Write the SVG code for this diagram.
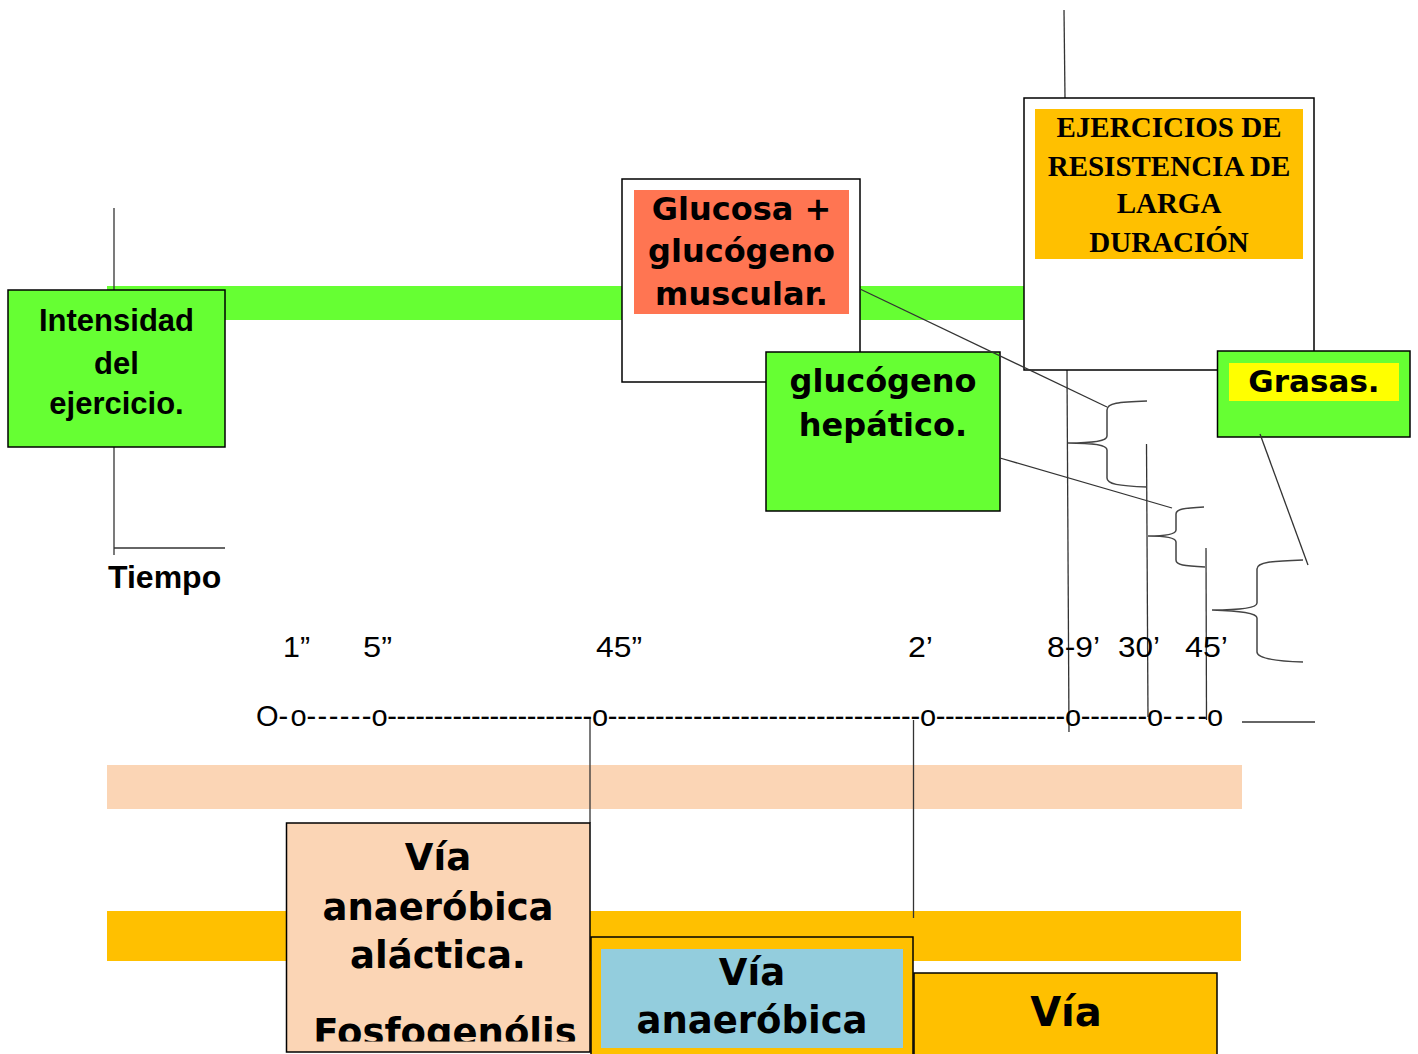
<svg xmlns="http://www.w3.org/2000/svg" width="1418" height="1054" viewBox="0 0 1418 1054">
<style>
.box{stroke:#000;stroke-width:1.5}
.ln{stroke:#333;stroke-width:1.3;fill:none}
.br{stroke:#444;stroke-width:1.5;fill:none}
.sans{font-family:"Liberation Sans",Arial,sans-serif}
.dj{font-family:"DejaVu Sans","Liberation Sans",sans-serif;font-weight:bold;text-anchor:middle}
.serif{font-family:"Liberation Serif","Times New Roman",serif;font-weight:bold;font-size:29px;text-anchor:middle}
.tl{font-family:"Liberation Sans",Arial,sans-serif;font-size:29px}
</style>
<defs>
<clipPath id="clipFos"><rect x="286" y="823" width="304" height="218.5"/></clipPath>
</defs>
<rect width="1418" height="1054" fill="#fff"/>
<g id="bands">
<rect x="107" y="286" width="923" height="34" fill="#66ff33"/>
<rect x="107" y="765" width="1135" height="44" fill="#fbd5b5"/>
<rect x="107" y="911" width="1134" height="50" fill="#ffc000"/>
</g>
<g id="axes">
<line class="ln" x1="114" y1="208" x2="114" y2="555"/>
<line class="ln" x1="114" y1="548" x2="225" y2="548"/>
<text class="sans" x="108" y="588" font-size="32" font-weight="bold">Tiempo</text>
</g>
<g id="connectors">
<line class="ln" x1="1064" y1="10" x2="1065" y2="98"/>
<line class="ln" x1="1067" y1="370" x2="1069" y2="732"/>
<line class="ln" x1="1146.5" y1="444" x2="1148" y2="717"/>
<line class="ln" x1="1206" y1="548" x2="1206.5" y2="720"/>
<line class="ln" x1="1242" y1="722" x2="1315" y2="722"/>
<line class="ln" x1="590" y1="717" x2="590" y2="823"/>
<line class="ln" x1="913.5" y1="720" x2="913.5" y2="918"/>
</g>
<g id="timeline">
<text class="tl" x="283" y="657" textLength="27" lengthAdjust="spacingAndGlyphs">1”</text>
<text class="tl" x="363" y="657" textLength="29" lengthAdjust="spacingAndGlyphs">5”</text>
<text class="tl" x="596" y="657" textLength="46" lengthAdjust="spacingAndGlyphs">45”</text>
<text class="tl" x="908" y="657" textLength="25" lengthAdjust="spacingAndGlyphs">2’</text>
<text class="tl" x="1047" y="657" textLength="53" lengthAdjust="spacingAndGlyphs">8-9’</text>
<text class="tl" x="1118" y="657" textLength="42" lengthAdjust="spacingAndGlyphs">30’</text>
<text class="tl" x="1185" y="657" textLength="43" lengthAdjust="spacingAndGlyphs">45’</text>
<text class="tl" x="256" y="726">O</text>
<text class="tl" x="278.5" y="726">-</text>
<text class="tl" x="290.5" y="726">o</text>
<text class="tl" x="306.5" y="726" textLength="65" lengthAdjust="spacing">------</text>
<text class="tl" x="371.5" y="726">o</text>
<text class="tl" x="387.3" y="726" textLength="204.9" lengthAdjust="spacing">----------------------</text>
<text class="tl" x="592" y="726">o</text>
<text class="tl" x="607.8" y="726" textLength="312.4" lengthAdjust="spacing">---------------------------------</text>
<text class="tl" x="920" y="726">o</text>
<text class="tl" x="935.8" y="726" textLength="129.4" lengthAdjust="spacing">--------------</text>
<text class="tl" x="1065" y="726">o</text>
<text class="tl" x="1080.8" y="726" textLength="66.4" lengthAdjust="spacing">-------</text>
<text class="tl" x="1147" y="726">o</text>
<text class="tl" x="1162.8" y="726" textLength="44.4" lengthAdjust="spacing">----</text>
<text class="tl" x="1207" y="726">o</text>
</g>
<g id="intensidad">
<rect class="box" x="8" y="290" width="217" height="157" fill="#66ff33"/>
<text class="sans" x="116.5" y="331" font-size="31" font-weight="bold" text-anchor="middle">Intensidad</text>
<text class="sans" x="116.5" y="374" font-size="31" font-weight="bold" text-anchor="middle">del</text>
<text class="sans" x="116.5" y="414" font-size="31" font-weight="bold" text-anchor="middle">ejercicio.</text>
</g>
<g id="glucosa">
<rect class="box" x="622" y="179" width="238" height="203" fill="#fff"/>
<rect x="634" y="190" width="215" height="124" fill="#ff7552"/>
<text class="dj" x="741.5" y="220" font-size="32">Glucosa +</text>
<text class="dj" x="741.5" y="262" font-size="32">glucógeno</text>
<text class="dj" x="741.5" y="305" font-size="32">muscular.</text>
</g>
<g id="hepatico">
<rect class="box" x="766" y="352" width="234" height="159" fill="#66ff33"/>
<text class="dj" x="883" y="392" font-size="32">glucógeno</text>
<text class="dj" x="883" y="436" font-size="32">hepático.</text>
</g>
<g id="ejercicios">
<rect class="box" x="1024" y="98" width="290" height="272" fill="#fff"/>
<rect x="1035" y="109" width="268" height="150" fill="#ffc000"/>
<text class="serif" x="1169" y="137" textLength="225" lengthAdjust="spacing">EJERCICIOS DE</text>
<text class="serif" x="1169" y="176">RESISTENCIA DE</text>
<text class="serif" x="1169" y="213">LARGA</text>
<text class="serif" x="1169" y="252">DURACIÓN</text>
</g>
<g id="grasas">
<rect class="box" x="1217.5" y="351" width="192.5" height="86" fill="#66ff33"/>
<rect x="1229" y="363" width="170" height="38" fill="#ffff00"/>
<text class="dj" x="1314" y="392" font-size="31">Grasas.</text>
</g>
<g id="alactica">
<rect class="box" x="286.5" y="823" width="303.5" height="229" fill="#fbd5b5"/>
<text class="dj" x="438" y="870" font-size="37">Vía</text>
<text class="dj" x="438" y="920" font-size="37">anaeróbica</text>
<text class="dj" x="438" y="968" font-size="37">aláctica.</text>
<text class="dj" x="445" y="1045" font-size="37" clip-path="url(#clipFos)">Fosfogenólis</text>
</g>
<g id="lactica">
<rect class="box" x="591" y="937" width="322" height="130" fill="#ffc000"/>
<rect x="601" y="949" width="302" height="99" fill="#93cddd"/>
<text class="dj" x="752" y="985" font-size="37">Vía</text>
<text class="dj" x="752" y="1033" font-size="37">anaeróbica</text>
</g>
<g id="aerobica">
<rect class="box" x="914" y="973" width="303" height="100" fill="#ffc000"/>
<text class="dj" x="1066" y="1026" font-size="40">Vía</text>
</g>
<g id="links">
<line class="ln" x1="860" y1="289" x2="1107" y2="407"/>
<line class="ln" x1="1000" y1="458" x2="1172" y2="508"/>
<line class="ln" x1="1260" y1="434" x2="1308" y2="565"/>
<path class="br" d="M1147,401 C1118,402 1107,403 1107,410 L1107,436 C1107,441 1095,443 1068,443 C1095,443 1107,445 1107,450 L1107,478 C1107,484 1118,486 1147,487"/>
<path class="br" d="M1204,507 C1184,508 1176,509 1176,514 L1176,530 C1176,534 1168,536 1148,536 C1168,536 1176,538 1176,542 L1176,560 C1176,565 1184,566 1205,567"/>
<path class="br" d="M1303,560 C1272,561 1257,562 1257,569 L1257,603 C1257,608 1240,610 1212,610 C1240,611 1257,613 1257,618 L1257,652 C1257,658 1272,661 1303,662"/>
</g>
</svg>
